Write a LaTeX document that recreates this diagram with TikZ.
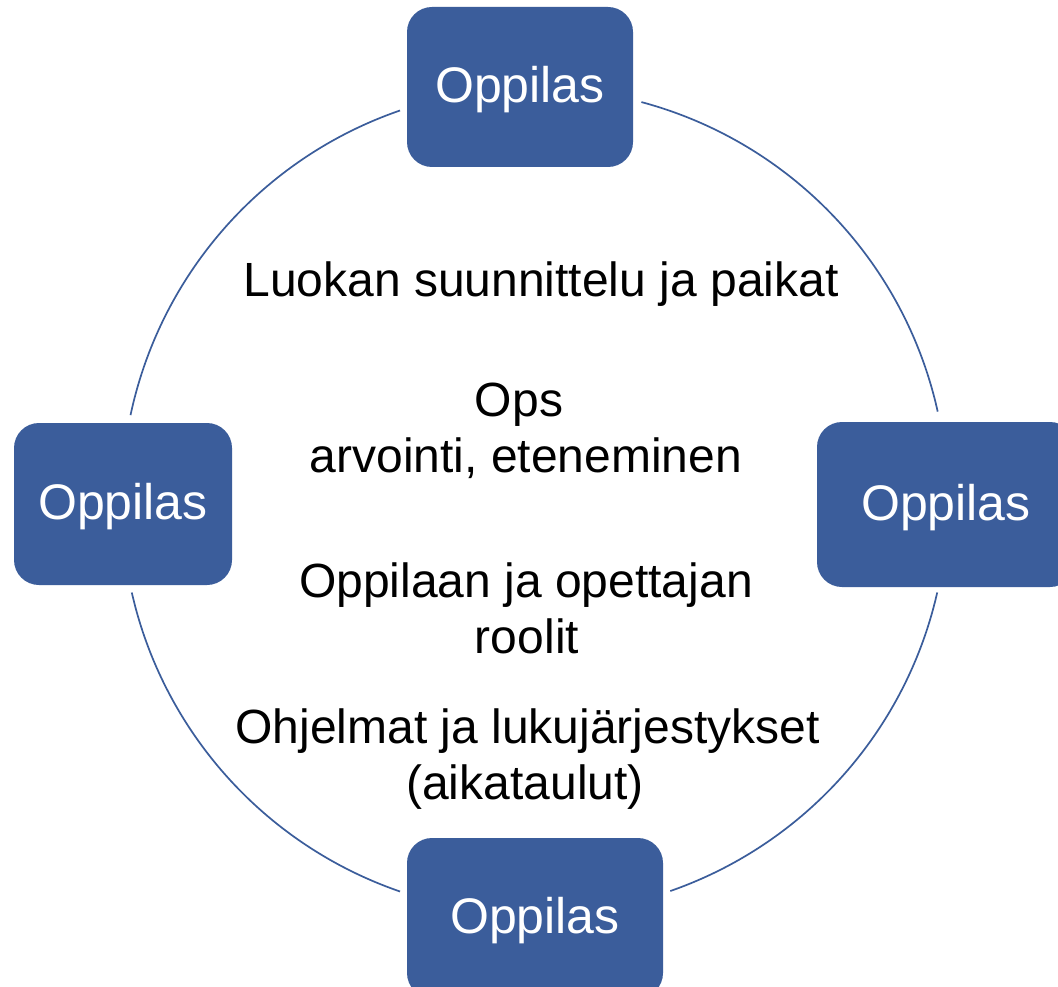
\documentclass[tikz,border=0pt]{standalone}
\usepackage{fontspec}
\setmainfont{Liberation Sans}
\definecolor{boxblue}{RGB}{59,93,155}
\begin{document}
\begin{tikzpicture}[x=1pt,y=-1pt,
  oppbox/.style={fill=boxblue, draw=none, rounded corners=25pt, text=white,
    font=\fontsize{50}{60}\selectfont, inner sep=0pt, text height=36pt, text depth=5pt},
  centertext/.style={anchor=base, inner sep=0pt, text=black,
    font=\fontsize{48}{57}\selectfont},
  ring/.style={draw=boxblue, line width=1.7pt}]
\useasboundingbox (0,0) rectangle (1058,987);
\clip (0,0) rectangle (1058,987);
\fill[white] (0,0) rectangle (1058,987);

% ring arcs between the boxes
\coordinate (c) at (534.5,501);
\draw[ring] (c) ++(192:413) coordinate (a1) arc[start angle=192, end angle=251, radius=413];
\draw[ring] (c) ++(285:413) coordinate (a2) arc[start angle=285, end angle=347.5, radius=413];
\draw[ring] (c) ++(12.8:413) coordinate (a3) arc[start angle=12.8, end angle=70.8, radius=413];
\draw[ring] (c) ++(109:413) coordinate (a4) arc[start angle=109, end angle=167.2, radius=413];

% boxes
\node[oppbox, minimum width=226pt, minimum height=160pt] (top) at (520,87) {Oppilas};
\node[oppbox, minimum width=218pt, minimum height=162pt] (left) at (123,504) {Oppilas};
\node[oppbox, minimum width=258pt, minimum height=165pt] (right) at (946,504.5) {Oppilas};
\node[oppbox, minimum width=256pt, minimum height=160pt] (bottom) at (535,918) {Oppilas};

% centre texts
\node[centertext] (t1) at (541,296) {Luokan suunnittelu ja paikat};
\node[centertext] (t2) at (519,416) {Ops};
\node[centertext] (t3) at (526,472) {arvointi, eteneminen};
\node[centertext] (t4) at (526,597) {Oppilaan ja opettajan};
\node[centertext] (t5) at (527,653) {roolit};
\node[centertext] (t6) at (527.5,743) {Ohjelmat ja lukujärjestykset};
\node[centertext] (t7) at (525,799) {(aikataulut)};
\end{tikzpicture}
\end{document}
